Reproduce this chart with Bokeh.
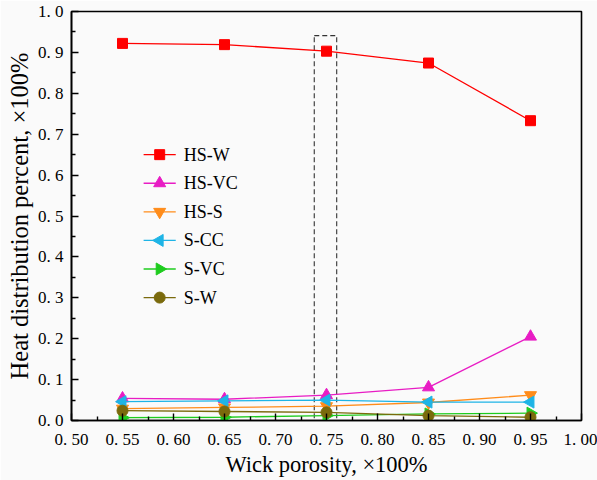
import math
from bokeh.plotting import figure
from bokeh.models import FixedTicker, CustomJSTickFormatter, Range1d
from bokeh.core.properties import value
from bokeh.embed import file_html
from bokeh.resources import INLINE

# ---- data ----
porosity = [0.55, 0.65, 0.75, 0.85, 0.95]
hs_w = [0.922, 0.919, 0.903, 0.874, 0.733]
hs_vc = [0.054, 0.052, 0.062, 0.081, 0.205]
hs_s = [0.029, 0.032, 0.035, 0.044, 0.062]
s_cc = [0.046, 0.048, 0.050, 0.045, 0.045]
s_vc = [0.007, 0.008, 0.012, 0.016, 0.018]
s_w = [0.024, 0.022, 0.020, 0.012, 0.008]

series_names = ["HS-W", "HS-VC", "HS-S", "S-CC", "S-VC", "S-W"]
series_values = [hs_w, hs_vc, hs_s, s_cc, s_vc, s_w]
series_colors = ["#FF0000", "#E81CC4", "#FF8C1A", "#1EB4E6", "#1ECC1E", "#7A6A0C"]
series_markers = ["square", "triangle", "inverted_triangle", "triangle", "triangle", "circle"]
series_angles = [0, 0, 0, math.pi / 2, -math.pi / 2, 0]
series_sizes = [10, 12, 12, 12, 12, 11]

x_ticks = [0.50, 0.55, 0.60, 0.65, 0.70, 0.75, 0.80, 0.85, 0.90, 0.95, 1.00]
x_minor = [0.525, 0.575, 0.625, 0.675, 0.725, 0.775, 0.825, 0.875, 0.925, 0.975]
y_ticks = [0.0, 0.1, 0.2, 0.3, 0.4, 0.5, 0.6, 0.7, 0.8, 0.9, 1.0]
y_minor = [0.05, 0.15, 0.25, 0.35, 0.45, 0.55, 0.65, 0.75, 0.85, 0.95]

# highlighted column (left, right, bottom, top)
box_left = [0.738]
box_right = [0.760]
box_bottom = [0.0]
box_top = [0.941]

FONT = "Liberation Serif"
BG = "#fafafa"

# legend layout (in axis units)
LEG_X0, LEG_X1, LEG_TX = 0.5707, 0.6022, 0.610
LEG_Y_TOP, LEG_STEP = 0.650, 0.0699

p = figure(width=597, height=480, output_backend="svg", toolbar_location=None,
           x_range=Range1d(0.5, 1.0), y_range=Range1d(0.0, 1.0),
           min_border_left=71, min_border_right=16, min_border_top=11, min_border_bottom=60)
p.background_fill_color = BG
p.border_fill_color = BG
p.outline_line_color = "black"
p.outline_line_width = 1.6
p.xgrid.visible = False
p.ygrid.visible = False

p.quad(left=box_left, right=box_right, bottom=box_bottom, top=box_top,
       fill_alpha=0, line_color="#333333", line_width=1.1, line_dash="5 3")

for name, vals, col, mk, ang, sz in zip(series_names, series_values, series_colors,
                                         series_markers, series_angles, series_sizes):
    p.line(porosity, vals, line_color=col, line_width=1.3)
    p.scatter(porosity, vals, marker=mk, size=sz, angle=ang, fill_color=col, line_color=col)

# legend (drawn so that the sideways triangles keep their direction)
n = len(series_names)
leg_y = [LEG_Y_TOP - i * LEG_STEP for i in range(n)]
leg_xm = (LEG_X0 + LEG_X1) / 2
p.segment(x0=[LEG_X0] * n, y0=leg_y, x1=[LEG_X1] * n, y1=leg_y,
          line_color=series_colors, line_width=1.3)
for i in range(n):
    p.scatter([leg_xm], [leg_y[i]], marker=series_markers[i], size=series_sizes[i],
              angle=series_angles[i], fill_color=series_colors[i], line_color=series_colors[i])
p.text(x=[LEG_TX] * n, y=leg_y, text=series_names, text_font=value(FONT),
       text_font_size="18px", text_baseline="middle", text_align="left", text_color="black")

for ax, ticks, minor in ((p.xaxis[0], x_ticks, x_minor), (p.yaxis[0], y_ticks, y_minor)):
    ax.ticker = FixedTicker(ticks=ticks, minor_ticks=minor)
    ax.major_tick_in = 7
    ax.major_tick_out = 0
    ax.minor_tick_in = 4
    ax.minor_tick_out = 0
    ax.axis_line_width = 1.6
    ax.major_tick_line_width = 1.4
    ax.minor_tick_line_width = 1.4
    ax.major_label_text_font = FONT
    ax.major_label_text_font_size = "17px"
    ax.major_label_text_color = "black"
    ax.axis_label_text_font = FONT
    ax.axis_label_text_font_style = "normal"
    ax.axis_label_text_color = "black"

p.xaxis[0].axis_label_text_font_size = "22.5px"
p.yaxis[0].axis_label_text_font_size = "24.5px"
p.xaxis[0].formatter = CustomJSTickFormatter(code="return tick.toFixed(2).replace('.', '. ');")
p.yaxis[0].formatter = CustomJSTickFormatter(code="return tick.toFixed(1).replace('.', '. ');")
p.xaxis[0].axis_label = "Wick porosity, ×100%"
p.yaxis[0].axis_label = "Heat distribution percent, ×100%"
p.xaxis[0].major_label_standoff = 9
p.yaxis[0].major_label_standoff = 8
p.xaxis[0].axis_label_standoff = 0
p.yaxis[0].axis_label_standoff = 2

open("out.html", "w").write(file_html(p, INLINE))
